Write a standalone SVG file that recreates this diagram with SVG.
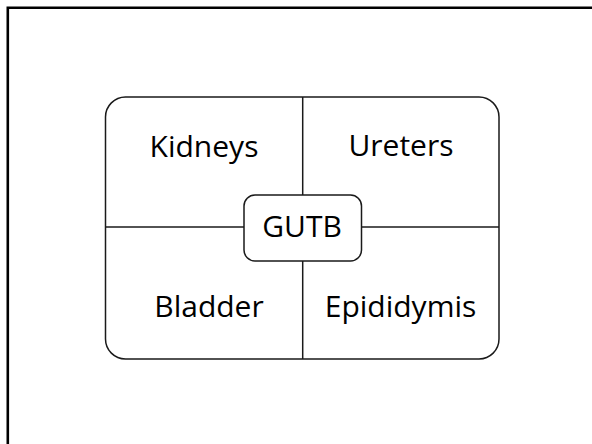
<svg xmlns="http://www.w3.org/2000/svg" width="592" height="444" viewBox="0 0 592 444">
<style>
.lbl{font-family:"Open Sans","Noto Sans",sans-serif;font-size:30px;fill:#000;text-anchor:middle}
.ln{stroke:#1a1a1a;stroke-width:1.5;fill:none}
.box{stroke:#1a1a1a;stroke-width:1.5;fill:#fff}
</style>
<rect x="0" y="0" width="592" height="444" fill="#fff"/>
<path d="M7.8 444 V7.8 H592" fill="none" stroke="#000" stroke-width="2.6"/>
<g id="frame">
<rect x="105.5" y="97" width="393.5" height="262" rx="20" ry="20" class="box"/>
</g>
<g id="connectors">
<line x1="302.7" y1="97" x2="302.7" y2="359" class="ln"/>
<line x1="105.5" y1="227" x2="499" y2="227" class="ln"/>
</g>
<g id="kidneys"><text class="lbl" x="204" y="156.5">Kidneys</text></g>
<g id="ureters"><text class="lbl" x="401" y="156">Ureters</text></g>
<g id="bladder"><text class="lbl" x="209" y="316.5">Bladder</text></g>
<g id="epididymis"><text class="lbl" x="400.5" y="316.5">Epididymis</text></g>
<g id="gutb">
<rect x="244" y="195" width="117.5" height="66" rx="11" ry="11" class="box"/>
<text class="lbl" x="302" y="237">GUTB</text>
</g>
</svg>
